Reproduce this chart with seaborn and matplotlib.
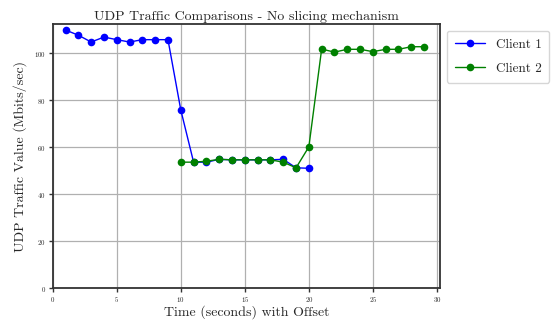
import numpy as np
import pandas as pd
import matplotlib
matplotlib.use("Agg")
import matplotlib.pyplot as plt
import seaborn as sns

# UDP throughput per client
client1_time = [1, 2, 3, 4, 5, 6, 7, 8, 9, 10, 11, 12, 13, 14, 15, 16, 17, 18, 19, 20]
client1_rate = [109.8, 107.6, 104.7, 106.8, 105.7, 104.7, 105.7, 105.7, 105.7, 75.8,
                53.6, 53.6, 54.8, 54.6, 54.6, 54.6, 54.6, 54.8, 51.2, 51.0]
client2_time = [10, 11, 12, 13, 14, 15, 16, 17, 18, 19, 20,
                21, 22, 23, 24, 25, 26, 27, 28, 29]
client2_rate = [53.6, 53.6, 54.0, 54.8, 54.6, 54.6, 54.6, 54.6, 53.6, 51.2, 60.1,
                101.7, 100.4, 101.6, 101.6, 100.6, 101.6, 101.6, 102.7, 102.7]

df = pd.concat([
    pd.DataFrame({'Time': client1_time, 'Rate': client1_rate, 'Client': 'Client 1'}),
    pd.DataFrame({'Time': client2_time, 'Rate': client2_rate, 'Client': 'Client 2'}),
])

sns.set_style('whitegrid', {'axes.edgecolor': '#333333', 'grid.color': '#b0b0b0'})
plt.rcParams['font.family'] = 'serif'
plt.rcParams['font.serif'] = ['cmr10', 'DejaVu Serif']
plt.rcParams['mathtext.fontset'] = 'cm'
plt.rcParams['axes.unicode_minus'] = False
plt.rcParams['axes.formatter.use_mathtext'] = True

fig, ax = plt.subplots(figsize=(5.55, 3.22), dpi=100)
sns.lineplot(data=df, x='Time', y='Rate', hue='Client', palette=['blue', 'green'],
             marker='o', markersize=5.5, markeredgewidth=0, linewidth=1, ax=ax)

ax.set_xlim(0, 30.25)
ax.set_ylim(0, 112.3)
ax.set_xticks([0, 5, 10, 15, 20, 25, 30])
ax.set_yticks([0, 20, 40, 60, 80, 100])
ax.tick_params(axis='both', labelsize=5, length=3, width=1, color='#333333',
               left=True, bottom=True, pad=2)
for s in ax.spines.values():
    s.set_linewidth(1.3)
ax.grid(True, linewidth=0.9)

ax.set_title('UDP Traffic Comparisons - No slicing mechanism', fontsize=10, pad=3)
ax.set_xlabel('Time (seconds) with Offset', fontsize=10, labelpad=1)
ax.set_ylabel('UDP Traffic Value (Mbits/sec)', fontsize=10, labelpad=5)
ax.legend(loc='upper left', bbox_to_anchor=(1.0, 1.0), fontsize=9.5, title=None,
          frameon=True, edgecolor='#cccccc', labelspacing=0.9, handlelength=2.3,
          borderpad=0.6)

fig.subplots_adjust(left=0.095, right=0.793, top=0.925, bottom=0.105)
fig.savefig('out.png', dpi=100)
